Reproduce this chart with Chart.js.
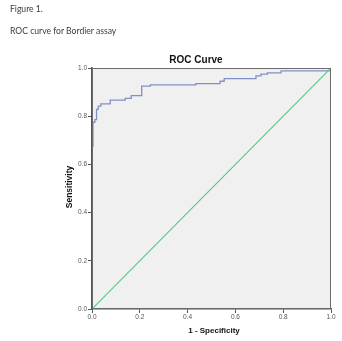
<!DOCTYPE html>
<html>
<head>
<meta charset="utf-8">
<script src="https://cdn.jsdelivr.net/npm/chart.js@4"></script>
<style>
  html, body { margin: 0; padding: 0; background: #fff; }
  #wrap { position: relative; width: 342px; height: 341px; }
  #roc { position: absolute; left: 0; top: 0; }
  .cap { position: absolute; left: 10px; font-family: Lato, sans-serif; font-size: 8.6px; color: #3a3a3a; white-space: nowrap; }
</style>
</head>
<body>
<div id="wrap">
  <canvas id="roc" width="342" height="341"></canvas>
  <div class="cap" style="top:4px;">Figure 1.</div>
  <div class="cap" style="top:26px;">ROC curve for Bordier assay</div>
</div>
<script>
// ROC curve points (1 - specificity, sensitivity)
const fpr = [0, 0, 0.004, 0.012, 0.019, 0.026, 0.037, 0.076, 0.139, 0.164, 0.208, 0.244, 0.434, 0.536, 0.553, 0.686, 0.707, 0.734, 0.791, 1.0];
const tpr = [0, 0.675, 0.775, 0.786, 0.828, 0.842, 0.851, 0.867, 0.874, 0.885, 0.925, 0.93, 0.935, 0.945, 0.956, 0.967, 0.975, 0.98, 0.988, 1.0];
// reference line
const refX = [0, 1];
const refY = [0, 1];
const ticks = [0, 0.2, 0.4, 0.6, 0.8, 1.0];

const chartTitle = 'ROC Curve';
const xTitle = '1 - Specificity';
const yTitle = 'Sensitivity';

// background, frame and the titles
const decor = {
    id: 'decor',
    beforeDraw(chart) {
        const { ctx, chartArea: a } = chart;
        ctx.save();
        ctx.fillStyle = '#f0f0f0';
        ctx.fillRect(a.left, a.top, a.right - a.left, a.bottom - a.top);
        ctx.restore();
    },
    afterDraw(chart) {
        const { ctx, chartArea: a } = chart;
        ctx.save();
        ctx.strokeStyle = '#6b6b6b';
        ctx.lineWidth = 1;
        ctx.strokeRect(a.left + 0.5, a.top + 0.5, a.right - a.left - 1, a.bottom - a.top - 1);

        ctx.fillStyle = '#111';
        ctx.textAlign = 'center';
        ctx.textBaseline = 'middle';
        ctx.font = "bold 10px 'Liberation Sans', Arial, sans-serif";
        ctx.fillText(chartTitle, 196, 60);
        ctx.font = "bold 8px 'Liberation Sans', Arial, sans-serif";
        ctx.fillText(xTitle, 214, 330.5);
        ctx.translate(69.5, 187);
        ctx.rotate(-Math.PI / 2);
        ctx.font = "bold 8.5px 'Liberation Sans', Arial, sans-serif";
        ctx.fillText(yTitle, 0, 0);
        ctx.restore();
    }
};

const tickFont = { family: "'Liberation Sans', Arial, sans-serif", size: 6.5 };

new Chart(document.getElementById('roc'), {
    type: 'scatter',
    data: {
        datasets: [
            {
                data: refX.map((x, i) => ({ x, y: refY[i] })),
                showLine: true,
                borderColor: '#5cc38a',
                borderWidth: 1.1,
                pointRadius: 0
            },
            {
                data: fpr.map((x, i) => ({ x, y: tpr[i] })),
                showLine: true,
                stepped: 'before',
                borderColor: '#8090c4',
                borderWidth: 1.3,
                pointRadius: 0
            }
        ]
    },
    options: {
        responsive: false,
        animation: false,
        layout: { padding: { top: 68, right: 11, bottom: 0, left: 0 } },
        plugins: {
            legend: { display: false },
            tooltip: { enabled: false }
        },
        scales: {
            x: {
                type: 'linear',
                min: 0,
                max: 1,
                afterFit: (s) => { s.height = 32; },
                afterBuildTicks: (s) => { s.ticks = ticks.map(v => ({ value: v })); },
                ticks: {
                    color: '#555',
                    font: tickFont,
                    padding: 0,
                    maxRotation: 0,
                    callback: (v) => v.toFixed(1)
                },
                grid: { drawOnChartArea: false, tickLength: 4, color: '#555' },
                border: { color: '#555', width: 1.5 }
            },
            y: {
                type: 'linear',
                min: 0,
                max: 1,
                afterFit: (s) => { s.width = 92; },
                afterBuildTicks: (s) => { s.ticks = ticks.map(v => ({ value: v })); },
                ticks: {
                    color: '#555',
                    font: tickFont,
                    padding: 1,
                    callback: (v) => v.toFixed(1)
                },
                grid: { drawOnChartArea: false, tickLength: 4, color: '#555' },
                border: { color: '#555', width: 1.5 }
            }
        }
    },
    plugins: [decor]
});
</script>
</body>
</html>
